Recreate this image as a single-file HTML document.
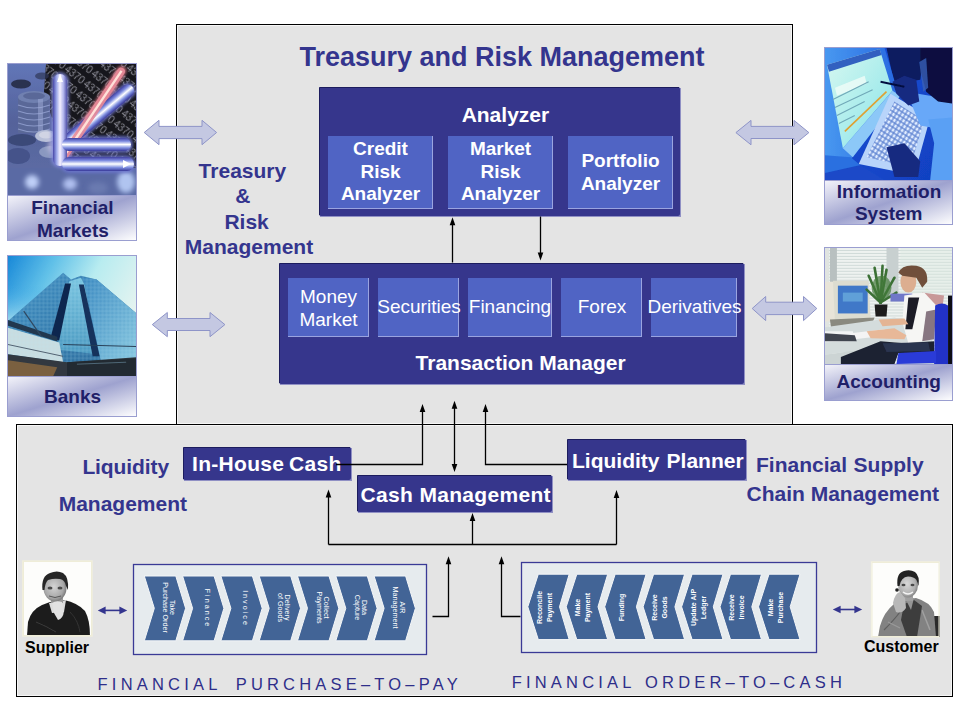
<!DOCTYPE html>
<html><head><meta charset="utf-8">
<style>
html,body{margin:0;padding:0;background:#fff;width:960px;height:720px;overflow:hidden}
svg{display:block;font-family:"Liberation Sans",sans-serif}
.nv{fill:#34358e;font-weight:bold}
.wt{fill:#fff;font-weight:bold}
.wn{fill:#fff}
.lb{fill:#1f2068;font-weight:bold}
</style></head><body>
<svg width="960" height="720" viewBox="0 0 960 720">
<defs>
<linearGradient id="lbl" x1="0" y1="0" x2="1" y2="1">
<stop offset="0" stop-color="#f4f4fa"/><stop offset="0.5" stop-color="#9ea2cf"/><stop offset="1" stop-color="#ffffff"/>
</linearGradient>
<marker id="ah" viewBox="0 0 10 10" refX="9" refY="5" markerWidth="5" markerHeight="7" orient="auto" markerUnits="userSpaceOnUse">
<path d="M0,0 L10,5 L0,10 z" fill="#000"/>
</marker>
</defs>

<!-- top gray box -->
<rect x="176.5" y="24.5" width="616" height="400" fill="#e4e4e4" stroke="#000" stroke-width="1"/>
<rect x="177.5" y="25.5" width="614" height="398" fill="none" stroke="#f6f6f6" stroke-width="1"/>
<!-- lower gray box -->
<rect x="16.5" y="424.5" width="936" height="272" fill="#e4e4e4" stroke="#000" stroke-width="1"/>
<rect x="17.5" y="425.5" width="934" height="270" fill="none" stroke="#f6f6f6" stroke-width="1"/>

<!-- title -->
<text class="nv" x="502" y="65.6" font-size="27" text-anchor="middle">Treasury and Risk Management</text>
<text class="nv" x="242.4" y="178" font-size="21" text-anchor="middle">Treasury</text>
<text class="nv" x="242.8" y="202.7" font-size="21" text-anchor="middle">&amp;</text>
<text class="nv" x="246.6" y="228.6" font-size="21" text-anchor="middle">Risk</text>
<text class="nv" x="249" y="254.2" font-size="21" text-anchor="middle">Management</text>

<!-- Analyzer -->
<rect x="320" y="88" width="361" height="129" fill="#9090c4"/>
<rect x="319" y="87" width="361" height="129" rx="2" fill="#36368c"/>
<path d="M319.5,215.0 V87.5 H679.0" stroke="#1c1c5e" stroke-width="1" fill="none"/>
<text class="wt" x="505.4" y="121.6" font-size="21" text-anchor="middle">Analyzer</text>
<g>
<rect x="328" y="136" width="105" height="73" fill="#9aa4e0"/>
<rect x="328" y="136" width="104" height="72" fill="#5064c4"/>
<rect x="448" y="136" width="105" height="73" fill="#9aa4e0"/>
<rect x="448" y="136" width="104" height="72" fill="#5064c4"/>
<rect x="568" y="136" width="105" height="73" fill="#9aa4e0"/>
<rect x="568" y="136" width="104" height="72" fill="#5064c4"/>
</g>
<text class="wt" font-size="19" text-anchor="middle"><tspan x="380.5" y="155.4">Credit</tspan><tspan x="380.5" y="178">Risk</tspan><tspan x="380.5" y="200.4">Analyzer</tspan></text>
<text class="wt" font-size="19" text-anchor="middle"><tspan x="500.5" y="155.4">Market</tspan><tspan x="500.5" y="178">Risk</tspan><tspan x="500.5" y="200.4">Analyzer</tspan></text>
<text class="wt" font-size="19" text-anchor="middle"><tspan x="620.5" y="167">Portfolio</tspan><tspan x="620.5" y="190">Analyzer</tspan></text>

<!-- Transaction manager -->
<rect x="280" y="264" width="465" height="121" fill="#9090c4"/>
<rect x="279" y="263" width="465" height="121" rx="2" fill="#36368c"/>
<path d="M279.5,383.0 V263.5 H743.0" stroke="#1c1c5e" stroke-width="1" fill="none"/>
<g>
<rect x="288" y="278" width="81" height="59" fill="#9aa4e0"/><rect x="288" y="278" width="80" height="58" fill="#5064c4"/>
<rect x="378" y="278" width="81" height="59" fill="#9aa4e0"/><rect x="378" y="278" width="80" height="58" fill="#5064c4"/>
<rect x="468" y="278" width="84" height="59" fill="#9aa4e0"/><rect x="468" y="278" width="83" height="58" fill="#5064c4"/>
<rect x="561" y="278" width="81" height="59" fill="#9aa4e0"/><rect x="561" y="278" width="80" height="58" fill="#5064c4"/>
<rect x="651" y="278" width="86" height="59" fill="#9aa4e0"/><rect x="651" y="278" width="85" height="58" fill="#5064c4"/>
</g>
<text class="wn" font-size="19" text-anchor="middle"><tspan x="328.5" y="302.9">Money</tspan><tspan x="328.5" y="325.6">Market</tspan></text>
<text class="wn" font-size="19" text-anchor="middle" x="419" y="313.4">Securities</text>
<text class="wn" font-size="19" text-anchor="middle" x="510" y="313.4">Financing</text>
<text class="wn" font-size="19" text-anchor="middle" x="602" y="313.4">Forex</text>
<text class="wn" font-size="19" text-anchor="middle" x="694.5" y="313.4">Derivatives</text>
<text class="wt" x="520.6" y="370" font-size="21" text-anchor="middle">Transaction Manager</text>

<!-- arrows between analyzer and TM -->
<g stroke="#000" stroke-width="1.3" fill="none">
<line x1="452.5" y1="262.5" x2="452.5" y2="222"/>
<line x1="540.5" y1="216.5" x2="540.5" y2="255"/>
</g>
<g fill="#000">
<polygon points="452.5,217.3 449.7,225.3 455.3,225.3"/>
<polygon points="540.5,260.5 537.7,252.5 543.3,252.5"/>
</g>

<!-- lower boxes -->
<rect x="184" y="448" width="168" height="33" fill="#9090c4"/>
<rect x="183" y="447" width="168" height="33" rx="2" fill="#36368c"/>
<path d="M183.5,479.0 V447.5 H350.0" stroke="#1c1c5e" stroke-width="1" fill="none"/>
<text class="wt" y="471" font-size="21" letter-spacing="0.3"><tspan x="192">In-House</tspan><tspan x="289">Cash</tspan></text>
<rect x="358" y="476" width="195" height="37" fill="#9090c4"/>
<rect x="357" y="475" width="195" height="37" rx="2" fill="#36368c"/>
<path d="M357.5,511.0 V475.5 H551.0" stroke="#1c1c5e" stroke-width="1" fill="none"/>
<text class="wt" x="360.6" y="501.6" font-size="21" letter-spacing="0.32">Cash Management</text>
<rect x="568" y="440" width="179" height="41" fill="#9090c4"/>
<rect x="567" y="439" width="179" height="41" rx="2" fill="#36368c"/>
<path d="M567.5,479.0 V439.5 H745.0" stroke="#1c1c5e" stroke-width="1" fill="none"/>
<text class="wt" y="467.9" font-size="21"><tspan x="572">Liquidity</tspan><tspan x="666.6">Planner</tspan></text>

<text class="nv" x="82.4" y="474.2" font-size="21" letter-spacing="-0.1">Liquidity</text>
<text class="nv" x="58.7" y="511" font-size="21">Management</text>
<text class="nv" y="471.9" font-size="21"><tspan x="756">Financial</tspan><tspan x="853.6">Supply</tspan></text>
<text class="nv" x="746.5" y="501.4" font-size="21">Chain Management</text>

<g stroke="#000" stroke-width="1.3" fill="none">
<polyline points="336,464.5 422.5,464.5 422.5,410"/>
<line x1="454.5" y1="407" x2="454.5" y2="466"/>
<polyline points="567,464.5 485.5,464.5 485.5,410"/>
<polyline points="328.5,544.5 616.5,544.5"/>
<line x1="328.5" y1="544.5" x2="328.5" y2="495"/>
<line x1="472.5" y1="544.5" x2="472.5" y2="519"/>
<line x1="616.5" y1="544.5" x2="616.5" y2="495"/>
<polyline points="432.5,616.5 448.5,616.5 448.5,562"/>
<polyline points="520.5,616.5 501.5,616.5 501.5,562"/>
</g>
<g fill="#000">
<polygon points="422.5,403.9 419.7,411.9 425.3,411.9"/>
<polygon points="454.5,400.8 451.7,408.8 457.3,408.8"/>
<polygon points="454.5,472.0 451.7,464.0 457.3,464.0"/>
<polygon points="485.5,403.9 482.7,411.9 488.3,411.9"/>
<polygon points="328.5,489.6 325.7,497.6 331.3,497.6"/>
<polygon points="472.5,513.0 469.7,521.0 475.3,521.0"/>
<polygon points="616.5,490.0 613.7,498.0 619.3,498.0"/>
<polygon points="448.5,556.2 445.7,564.2 451.3,564.2"/>
<polygon points="501.5,556.2 498.7,564.2 504.3,564.2"/>
</g>

<!-- panels -->
<rect x="133.5" y="564.5" width="293" height="90" fill="#e6ebee" stroke="#3a3a96" stroke-width="1.3"/>
<rect x="521.5" y="562.5" width="295" height="90" fill="#e6ebee" stroke="#3a3a96" stroke-width="1.3"/>
<g fill="#426496" stroke="#f4f6f8" stroke-width="1">
<polygon points="144.3,576.0 175.8,576.0 185.6,608.3 175.8,640.8 144.3,640.8 154.3,608.3"/>
<polygon points="182.6,576.0 214.1,576.0 223.9,608.3 214.1,640.8 182.6,640.8 192.6,608.3"/>
<polygon points="220.9,576.0 252.4,576.0 262.2,608.3 252.4,640.8 220.9,640.8 230.9,608.3"/>
<polygon points="259.2,576.0 290.7,576.0 300.5,608.3 290.7,640.8 259.2,640.8 269.2,608.3"/>
<polygon points="297.5,576.0 329.0,576.0 338.8,608.3 329.0,640.8 297.5,640.8 307.5,608.3"/>
<polygon points="335.8,576.0 367.3,576.0 377.1,608.3 367.3,640.8 335.8,640.8 345.8,608.3"/>
<polygon points="374.1,576.0 405.6,576.0 415.4,608.3 405.6,640.8 374.1,640.8 384.1,608.3"/>
<polygon points="527.8,606.8 538.3,574.2 569.2,574.2 559.5,606.8 569.2,639.6 538.3,639.6"/>
<polygon points="566.2,606.8 576.8,574.2 607.7,574.2 598.0,606.8 607.7,639.6 576.8,639.6"/>
<polygon points="604.7,606.8 615.2,574.2 646.1,574.2 636.4,606.8 646.1,639.6 615.2,639.6"/>
<polygon points="643.1,606.8 653.6,574.2 684.6,574.2 674.9,606.8 684.6,639.6 653.6,639.6"/>
<polygon points="681.6,606.8 692.1,574.2 723.0,574.2 713.3,606.8 723.0,639.6 692.1,639.6"/>
<polygon points="720.0,606.8 730.5,574.2 761.5,574.2 751.8,606.8 761.5,639.6 730.5,639.6"/>
<polygon points="758.5,606.8 769.0,574.2 800.0,574.2 790.2,606.8 800.0,639.6 769.0,639.6"/>
</g>
<g fill="#fff" font-size="7.2">
<text transform="translate(169.3,607.5) rotate(90)" text-anchor="middle"><tspan x="0" y="-1">Take</tspan><tspan x="0" y="6">Purchase Order</tspan></text>
<text transform="translate(207.6,607.5) rotate(90)" text-anchor="middle" y="2.5">F i n a n c e</text>
<text transform="translate(245.9,607.5) rotate(90)" text-anchor="middle" y="2.5">I n v o i c e</text>
<text transform="translate(284.2,607.5) rotate(90)" text-anchor="middle"><tspan x="0" y="-1">Delivery</tspan><tspan x="0" y="6">of Goods</tspan></text>
<text transform="translate(322.5,607.5) rotate(90)" text-anchor="middle"><tspan x="0" y="-1">Collect</tspan><tspan x="0" y="6">Payments</tspan></text>
<text transform="translate(360.8,607.5) rotate(90)" text-anchor="middle"><tspan x="0" y="-1">Data</tspan><tspan x="0" y="6">Capture</tspan></text>
<text transform="translate(399.1,607.5) rotate(90)" text-anchor="middle"><tspan x="0" y="-1">A/R</tspan><tspan x="0" y="6">Management</tspan></text>
</g>
<g fill="#fff" font-size="7" font-weight="bold">
<text transform="translate(544.3,607.5) rotate(-90)" text-anchor="middle"><tspan x="0" y="-2.5">Reconcile</tspan><tspan x="0" y="7.5">Payment</tspan></text>
<text transform="translate(582.8,607.5) rotate(-90)" text-anchor="middle"><tspan x="0" y="-2.5">Make</tspan><tspan x="0" y="7.5">Payment</tspan></text>
<text transform="translate(621.2,607.5) rotate(-90)" text-anchor="middle" y="2.5">Funding</text>
<text transform="translate(659.6,607.5) rotate(-90)" text-anchor="middle"><tspan x="0" y="-2.5">Receive</tspan><tspan x="0" y="7.5">Goods</tspan></text>
<text transform="translate(698.1,607.5) rotate(-90)" text-anchor="middle"><tspan x="0" y="-2.5">Update A/P</tspan><tspan x="0" y="7.5">Ledger</tspan></text>
<text transform="translate(736.5,607.5) rotate(-90)" text-anchor="middle"><tspan x="0" y="-2.5">Receive</tspan><tspan x="0" y="7.5">Invoice</tspan></text>
<text transform="translate(775.0,607.5) rotate(-90)" text-anchor="middle"><tspan x="0" y="-2.5">Make</tspan><tspan x="0" y="7.5">Purchase</tspan></text>
</g>

<text y="689.8" font-size="16.5" fill="#2e2e8a" letter-spacing="4.2"><tspan x="97.6">FINANCIAL</tspan><tspan x="235.7">PURCHASE–TO–PAY</tspan></text>
<text y="687.5" font-size="16.5" fill="#2e2e8a" letter-spacing="4.2"><tspan x="511.7">FINANCIAL</tspan><tspan x="645">ORDER–TO–CASH</tspan></text>

<text x="25" y="653.4" font-size="16" font-weight="bold" fill="#000">Supplier</text>
<text x="864" y="652" font-size="16" font-weight="bold" fill="#000">Customer</text>

<!-- tiles -->
<rect x="7.5" y="63.5" width="129" height="132" fill="#4a5a8a" stroke="#9a9ed0"/>
<svg x="8" y="64" width="128" height="131" viewBox="0 0 128 131" overflow="hidden">
<defs>
<filter id="b1" x="-10%" y="-10%" width="120%" height="120%"><feGaussianBlur stdDeviation="0.7"/></filter>
<filter id="b2" x="-30%" y="-30%" width="160%" height="160%"><feGaussianBlur stdDeviation="2.5"/></filter>
<filter id="b3" x="-30%" y="-30%" width="160%" height="160%"><feGaussianBlur stdDeviation="1.6"/></filter>
<linearGradient id="p1bg" x1="0" y1="0" x2="0" y2="1"><stop offset="0" stop-color="#6276b8"/><stop offset="0.45" stop-color="#54629a"/><stop offset="1" stop-color="#6070a8"/></linearGradient>
<linearGradient id="barV" x1="0" y1="0" x2="1" y2="0"><stop offset="0" stop-color="#4848a8"/><stop offset="0.25" stop-color="#9aa6e8"/><stop offset="0.5" stop-color="#f4f0ff"/><stop offset="0.75" stop-color="#b0b4ec"/><stop offset="1" stop-color="#5050a8"/></linearGradient>
<linearGradient id="barH" x1="0" y1="0" x2="0" y2="1"><stop offset="0" stop-color="#4040a0"/><stop offset="0.25" stop-color="#7e8ce0"/><stop offset="0.5" stop-color="#ffffff"/><stop offset="0.75" stop-color="#8090e0"/><stop offset="1" stop-color="#38389a"/></linearGradient>
<pattern id="nums" width="24" height="13" patternUnits="userSpaceOnUse" patternTransform="rotate(38)">
<text x="0" y="10" font-size="10" fill="#8a8a96" font-family="Liberation Sans">4370</text>
</pattern>
</defs>
<g filter="url(#b1)">
<rect width="128" height="131" fill="url(#p1bg)"/>
<!-- black numbers area -->
<path d="M38,0 L128,0 L128,112 L110,108 L60,92 L45,58 L36,28 Z" fill="#18181c"/>
<path d="M38,0 L128,0 L128,112 L110,108 L60,92 L45,58 L36,28 Z" fill="url(#nums)"/>
<!-- dark blob -->
<ellipse cx="13" cy="20" rx="10" ry="4.5" fill="#2a3050"/>
<ellipse cx="34" cy="12" rx="7" ry="3.5" fill="#303858" opacity="0.7"/>
<!-- coin stack -->
<rect x="10" y="33" width="32" height="36" fill="#5a6898"/>
<ellipse cx="26" cy="33" rx="16" ry="6" fill="#7080b0"/>
<ellipse cx="26" cy="32" rx="11" ry="3.5" fill="#5a6898"/>
<g stroke="#8a98c8" stroke-width="1.1" fill="none">
<path d="M10,41 Q26,47 42,41"/><path d="M10,47 Q26,53 42,47"/><path d="M10,53 Q26,59 42,53"/><path d="M10,59 Q26,65 42,59"/><path d="M10,65 Q26,71 42,65"/>
</g>
<rect x="30" y="35" width="5" height="32" fill="#a0acd8" opacity="0.5"/>
<ellipse cx="14" cy="76" rx="14" ry="6" fill="#3a4878"/>
<ellipse cx="38" cy="72" rx="11" ry="6" fill="#b8c0d8"/>
<ellipse cx="38" cy="71" rx="7" ry="3.5" fill="#d0d4e4"/>
<ellipse cx="42" cy="88" rx="11" ry="6" fill="#8a98c0"/>
<ellipse cx="10" cy="92" rx="12" ry="8" fill="#44528a"/>
<!-- bottom -->
<rect x="0" y="104" width="128" height="27" fill="#5a6aa4"/>
</g>
<g filter="url(#b2)">
<ellipse cx="24" cy="118" rx="7" ry="7" fill="#c0d0f8"/>
<ellipse cx="62" cy="120" rx="7" ry="6" fill="#b0c0f0"/>
<ellipse cx="118" cy="118" rx="9" ry="11" fill="#b0c4f0"/>
<ellipse cx="90" cy="124" rx="10" ry="6" fill="#6a7ab0"/>
<ellipse cx="52" cy="82" rx="12" ry="10" fill="#d8d0e8" opacity="0.7"/>
</g>
<g filter="url(#b3)">
<g transform="translate(54,82) rotate(-40)"><rect x="0" y="-8" width="94" height="16" rx="8" fill="#7078d0" opacity="0.8"/></g>
<g transform="translate(52,98) rotate(-56)"><rect x="0" y="-5" width="115" height="10" rx="5" fill="#e07a8a" opacity="0.8"/></g>
<rect x="43" y="8" width="18" height="96" rx="9" fill="#8088d8" opacity="0.8"/>
<rect x="52" y="72" width="73" height="17" rx="8" fill="#6a74d0" opacity="0.8"/>
<rect x="52" y="91" width="76" height="18" rx="9" fill="#6a74d0" opacity="0.8"/>
</g>
<g filter="url(#b1)">
<g transform="translate(54,82) rotate(-40)">
<rect x="0" y="-6.5" width="92" height="13" rx="6.5" fill="url(#barH)"/>
</g>
<g transform="translate(52,98) rotate(-56)">
<rect x="0" y="-4" width="113" height="8" rx="4" fill="#e88a98" opacity="0.9"/>
<rect x="0" y="-1.2" width="110" height="2.4" fill="#ffe0d8"/>
</g>
<rect x="45" y="10" width="14" height="92" rx="7" fill="url(#barV)"/>
<path d="M52,10 L55,18 L49,18 Z" fill="#fff"/>
<rect x="54" y="74" width="69" height="13" rx="6.5" fill="url(#barH)"/>
<rect x="54" y="93" width="72" height="14" rx="7" fill="url(#barH)"/>
<path d="M123,100 L115,96 L115,104 Z" fill="#fff"/>
</g>
</svg>

<rect x="7.5" y="195.5" width="129" height="45" fill="url(#lbl)" stroke="#9a9ed0"/>
<text class="lb" font-size="19" text-anchor="middle"><tspan x="72.4" y="213.6">Financial</tspan><tspan x="72.9" y="236.6">Markets</tspan></text>

<rect x="7.5" y="255.5" width="129" height="121" fill="#60a8d0" stroke="#9a9ed0"/>
<svg x="8" y="256" width="128" height="120" viewBox="0 0 130 122" preserveAspectRatio="none" overflow="hidden">
<defs>
<filter id="c1" x="-10%" y="-10%" width="120%" height="120%"><feGaussianBlur stdDeviation="0.7"/></filter>
<linearGradient id="sky" x1="0" y1="0" x2="1" y2="0.5"><stop offset="0" stop-color="#1888d8"/><stop offset="0.3" stop-color="#60c0e8"/><stop offset="0.6" stop-color="#b8ecf0"/><stop offset="1" stop-color="#e8f4f0"/></linearGradient>
<linearGradient id="skyL" x1="0" y1="0" x2="0" y2="1"><stop offset="0" stop-color="#40a8e8" stop-opacity="0"/><stop offset="1" stop-color="#c8eef0"/></linearGradient>
<linearGradient id="twL" x1="0" y1="0" x2="1" y2="1"><stop offset="0" stop-color="#4090c4"/><stop offset="1" stop-color="#2a6898"/></linearGradient>
<linearGradient id="twM" x1="0" y1="0" x2="0" y2="1"><stop offset="0" stop-color="#78c4e0"/><stop offset="1" stop-color="#4a98c0"/></linearGradient>
<linearGradient id="twR" x1="0" y1="0" x2="1" y2="1"><stop offset="0" stop-color="#3a88c0"/><stop offset="1" stop-color="#88c8e0"/></linearGradient>
<pattern id="grid" width="4" height="4" patternUnits="userSpaceOnUse"><rect width="4" height="4" fill="none" stroke="#b8e8f4" stroke-width="0.5" opacity="0.4"/></pattern>
</defs>
<g filter="url(#c1)">
<rect width="130" height="122" fill="url(#sky)"/>
<rect x="0" y="30" width="60" height="45" fill="url(#skyL)"/>
<!-- tower -->
<path d="M56,17 L64,24 L74,20 L90,24 L130,58 L130,110 L60,114 L0,100 L0,66 Z" fill="url(#twL)"/>
<path d="M62,26 L74,22 L78,30 L90,100 L50,95 Z" fill="url(#twM)"/>
<path d="M76,22 L90,24 L130,58 L130,108 L95,110 L78,30 Z" fill="url(#twR)"/>
<path d="M56,17 L64,24 L74,20 L90,24 L130,58 L130,110 L60,114 L0,100 L0,66 Z" fill="url(#grid)"/>
<!-- dark stripes -->
<path d="M58,28 L64,28 L52,86 L43,84 Z" fill="#102850"/>
<path d="M72,29 L77,29 L93,102 L86,102 Z" fill="#14305c"/>
<!-- lower-left structure -->
<path d="M0,65 L50,82 L50,87 L0,71 Z" fill="#203850"/>
<path d="M0,73 L52,88 L56,108 L0,100 Z" fill="#c8dce0"/>
<path d="M0,73 L52,88 L56,108 L0,100 Z" fill="url(#grid)"/>
<path d="M16,56 L34,82" stroke="#304860" stroke-width="1.2"/>
<path d="M0,90 L56,102" stroke="#506070" stroke-width="1"/>
<path d="M56,90 L130,92" stroke="#284058" stroke-width="1.2"/>
<!-- bottom -->
<path d="M0,100 L60,108 L130,103 L130,122 L0,122 Z" fill="#303840"/>
<path d="M0,106 L50,113 L46,122 L0,122 Z" fill="#7a6040"/>
<path d="M60,108 L130,104 L130,122 L60,122 Z" fill="#222a30"/>
<path d="M70,110 L120,108" stroke="#506878" stroke-width="1"/>
</g>
</svg>

<rect x="7.5" y="376.5" width="129" height="40" fill="url(#lbl)" stroke="#9a9ed0"/>
<text class="lb" font-size="19" text-anchor="middle" x="72.5" y="402.5">Banks</text>

<rect x="824.5" y="47.5" width="128" height="133" fill="#2050d0" stroke="#9a9ed0"/>
<svg x="825" y="48" width="127" height="132" viewBox="0 0 128 133" preserveAspectRatio="none" overflow="hidden">
<defs>
<filter id="d1" x="-10%" y="-10%" width="120%" height="120%"><feGaussianBlur stdDeviation="0.8"/></filter>
<linearGradient id="isbg" x1="0" y1="0" x2="1" y2="1"><stop offset="0" stop-color="#1a50d8"/><stop offset="1" stop-color="#1040c0"/></linearGradient>
<linearGradient id="scr" x1="0" y1="0" x2="1" y2="1"><stop offset="0" stop-color="#d8f8f0"/><stop offset="0.6" stop-color="#a8ecec"/><stop offset="1" stop-color="#80d8e8"/></linearGradient>
<linearGradient id="bez" x1="0" y1="0" x2="1" y2="0"><stop offset="0" stop-color="#4898f0"/><stop offset="1" stop-color="#2868e0"/></linearGradient>
<pattern id="keys" width="4.5" height="4" patternUnits="userSpaceOnUse" patternTransform="rotate(-58)"><rect width="4.5" height="4" fill="#5a80d0"/><rect x="0.6" y="0.6" width="3.3" height="2.8" fill="#e0ecff"/></pattern>
</defs>
<g filter="url(#d1)">
<rect width="128" height="133" fill="url(#isbg)"/>
<!-- dark back top right -->
<path d="M62,0 L100,0 L96,32 L70,36 Z" fill="#0a1c60"/>
<!-- monitor bezel -->
<path d="M0,0 L60,0 L74,46 L26,112 L0,126 Z" fill="url(#bez)"/>
<path d="M0,108 L26,110 L40,122 L0,133 Z" fill="#2a70e0"/>
<!-- screen -->
<path d="M2,17 L55,1 L68,43 L18,101 Z" fill="url(#scr)"/>
<path d="M2,17 L55,1 L57,7 L4,24 Z" fill="#3060c0"/>
<path d="M10,40 L40,28 L42,36 L12,48 Z" fill="#f0fcf8" opacity="0.8"/>
<path d="M20,84 L62,44" stroke="#e0a030" stroke-width="1.6"/>
<path d="M8,52 L44,34 M10,60 L48,42 M12,68 L40,54 M14,76 L30,68" stroke="#70a8b8" stroke-width="1.1"/>
<path d="M18,101 L68,43 L76,48 L28,110 Z" fill="#8cc8f8"/>
<!-- keyboard -->
<path d="M66,46 L106,70 L90,128 L34,117 Z" fill="#b8d4fa"/>
<path d="M70,54 L100,73 L86,120 L42,110 Z" fill="url(#keys)"/>
<!-- right arm sleeve -->
<path d="M82,44 L128,52 L128,84 L96,78 Z" fill="#68a8f8"/>
<path d="M104,72 L128,70 L128,133 L106,133 L110,96 Z" fill="#5aa0f4"/>
<!-- head silhouette -->
<path d="M96,0 L128,0 L128,56 L114,54 L102,44 L96,22 Z" fill="#081040"/>
<path d="M95,14 L102,10 L104,40 L99,44 Z" fill="#3a60b8" opacity="0.8"/>
<!-- hand with pen -->
<path d="M68,34 L80,28 L92,32 L95,54 L84,58 L72,46 Z" fill="#182a80"/>
<path d="M56,34 L80,39" stroke="#061040" stroke-width="2"/>
<!-- bottom hand -->
<path d="M62,100 L80,96 L96,114 L94,130 L70,130 Z" fill="#182a80"/>
<path d="M0,126 L36,118 L60,133 L0,133 Z" fill="#1a4ac8"/>
</g>
</svg>

<rect x="824.5" y="180.5" width="128" height="44" fill="url(#lbl)" stroke="#9a9ed0"/>
<text class="lb" font-size="19" text-anchor="middle"><tspan x="889" y="197.8">Information</tspan><tspan x="888.7" y="220.2">System</tspan></text>

<rect x="824.5" y="247.5" width="128" height="117" fill="#a0b0b0" stroke="#9a9ed0"/>
<svg x="825" y="248" width="127" height="116" viewBox="0 0 128 117" preserveAspectRatio="none" overflow="hidden">
<defs>
<filter id="e1" x="-10%" y="-10%" width="120%" height="120%"><feGaussianBlur stdDeviation="0.8"/></filter>
<pattern id="blinds" width="6" height="3" patternUnits="userSpaceOnUse"><rect width="6" height="3" fill="#eef2f0"/><rect y="2" width="6" height="1" fill="#d0dad8"/></pattern>
</defs>
<g filter="url(#e1)">
<rect width="128" height="117" fill="url(#blinds)"/>
<rect x="5" y="0" width="7" height="40" fill="#b8c0c0"/>
<rect x="62" y="0" width="12" height="50" fill="#c8d0d0"/>
<rect x="0" y="0" width="4" height="117" fill="#e0e4e0"/>
<rect x="76" y="0" width="52" height="45" fill="#dcece0" opacity="0.4"/>
<!-- monitor -->
<rect x="0" y="34" width="12" height="40" fill="#e8e4d8"/>
<path d="M8,33 L44,33 L46,72 L10,74 Z" fill="#dcdcd0"/>
<rect x="13" y="38" width="30" height="28" fill="#4078c8"/>
<rect x="18" y="45" width="20" height="9" fill="#60a0d8"/>
<path d="M5,72 L50,70 L46,80 L6,80 Z" fill="#8a8a80"/>
<!-- desk -->
<path d="M0,80 L70,70 L108,80 L108,96 L50,100 L0,108 Z" fill="#d4dcdc"/>
<path d="M0,84 L28,84 L30,94 L0,95 Z" fill="#f2f4f4"/>
<path d="M26,86 L60,82 L64,88 L30,92 Z" fill="#f4f4f4"/>
<path d="M0,108 L50,100 L70,117 L0,117 Z" fill="#ccd4d4"/>

<!-- plant -->
<g stroke="#3a7034" stroke-width="2.6" stroke-linecap="round" fill="none">
<path d="M56,55 L44,28"/><path d="M56,55 L50,20"/><path d="M56,55 L62,22"/><path d="M56,55 L70,30"/><path d="M56,55 L42,42"/><path d="M56,55 L72,45"/><path d="M56,55 L58,18"/>
</g>
<ellipse cx="57" cy="40" rx="10" ry="12" fill="#447a3c" opacity="0.7"/>
<path d="M50,57 L63,57 L62,69 L51,69 Z" fill="#1c1c1c"/>
<!-- blue folders -->
<rect x="66" y="46" width="22" height="8" fill="#7078c8"/>
<!-- man -->
<path d="M98,45 L120,48 L118,62 L100,58 Z" fill="#c89898"/>
<path d="M80,48 L100,45 L114,60 L112,92 L84,96 L78,75 Z" fill="#f6f6f4"/>
<path d="M84,50 L95,50 L88,82 L81,82 Z" fill="#1c1c28"/>
<path d="M102,64 L112,62 L110,92 L98,94 Z" fill="#584050" opacity="0.7"/>
<ellipse cx="84" cy="34" rx="8" ry="11" fill="#dcae90"/>
<path d="M74,25 Q78,16 92,18 Q104,20 103,34 L98,40 L92,30 L78,28 Z" fill="#70503a"/>
<!-- arms/hands -->
<path d="M42,84 L70,81 L82,88 L80,92 L46,91 Z" fill="#e8b898"/>
<path d="M54,72 L80,71 L84,77 L58,79 Z" fill="#e4b494"/>
<!-- pants / under desk -->
<path d="M16,110 L56,94 L80,96 L110,94 L110,106 L74,106 L70,117 L16,117 Z" fill="#1c2230"/>
<path d="M58,96 L104,95 L106,104 L62,105 Z" fill="#2a3450"/>
<path d="M0,86 L30,88 L32,94 L0,94 Z" fill="#404450"/>
<!-- chair -->
<path d="M111,58 Q118,54 124,58 L124,117 L110,117 Z" fill="#2232c8"/>
<path d="M74,106 L112,104 L112,116 L72,117 Z" fill="#2a3ad8"/>
<rect x="124" y="48" width="4" height="69" fill="#101018"/>
</g>
</svg>

<rect x="824.5" y="364.5" width="128" height="36" fill="url(#lbl)" stroke="#9a9ed0"/>
<text class="lb" font-size="19" text-anchor="middle" x="888.7" y="387.8">Accounting</text>

<!-- block arrows -->
<g fill="#c4c8e2" stroke="#8e94c8" stroke-width="1">
<polygon points="144.2,132.5 159,120.3 159,126.4 202,126.4 202,120.3 216.6,132.5 202,144.7 202,138.6 159,138.6 159,144.7"/>
<polygon points="152.3,324.6 167.3,312.5 167.3,318.5 210,318.5 210,312.5 224.9,324.6 210,336.7 210,330.5 167.3,330.5 167.3,336.7"/>
<polygon points="735.9,132.6 751,120.4 751,126.4 794,126.4 794,120.4 808.9,132.6 794,144.8 794,138.5 751,138.5 751,144.8"/>
<polygon points="752.2,308.5 765.7,296.5 765.7,302.2 803.5,302.2 803.5,296.5 816.8,308.5 803.5,320.6 803.5,314.6 765.7,314.6 765.7,320.6"/>
</g>

<!-- small dark arrows -->
<g fill="#34358e" stroke="#34358e">
<line x1="104" y1="610.4" x2="121" y2="610.4" stroke-width="1.6"/>
<polygon points="97.8,610.4 105.6,606.6 105.6,614.2" stroke="none"/>
<polygon points="127.2,610.4 119.4,606.6 119.4,614.2" stroke="none"/>
<line x1="839" y1="609.5" x2="856" y2="609.5" stroke-width="1.6"/>
<polygon points="832.8,609.5 840.6,605.7 840.6,613.3" stroke="none"/>
<polygon points="862.2,609.5 854.4,605.7 854.4,613.3" stroke="none"/>
</g>

<!-- person photos placeholders -->
<rect x="22.5" y="560.8" width="69.7" height="75.4" fill="#f8f8f4" stroke="#f0eedc"/>
<svg x="23" y="561" width="69" height="75" viewBox="23 561 69 75" overflow="hidden">
<defs><filter id="f5" x="-10%" y="-10%" width="120%" height="120%"><feGaussianBlur stdDeviation="0.6"/></filter>
<radialGradient id="face5" cx="0.45" cy="0.45" r="0.6"><stop offset="0" stop-color="#d4d4d4"/><stop offset="0.7" stop-color="#a8a8a8"/><stop offset="1" stop-color="#707070"/></radialGradient></defs>
<rect x="23" y="561" width="69" height="75" fill="#fdfdfb"/>
<g filter="url(#f5)">
<!-- sweater -->
<path d="M27,636 L28,622 Q31,610 42,605 L50,602 L64,600 Q78,603 85,611 Q90,620 90,636 Z" fill="#1c1c1c"/>
<path d="M36,622 Q46,626 56,632" stroke="#3a3a3a" stroke-width="1" fill="none"/>
<path d="M70,612 Q78,620 80,632" stroke="#333" stroke-width="1" fill="none"/>
<!-- collar -->
<path d="M49,603 L66,600 L64,612 L52,613 Z" fill="#dcdcdc"/>
<!-- neck -->
<rect x="51" y="595" width="12" height="8" fill="#9a9a9a"/>
<!-- head -->
<ellipse cx="55" cy="588" rx="11.5" ry="13.5" fill="url(#face5)"/>
<path d="M42.5,590 Q41,576 50,573 Q57,570 63,573 Q69,577 68,590 L66,586 Q65,580 60,579 Q54,578 48,580 Q45,583 44.5,590 Z" fill="#262626"/>
<ellipse cx="50" cy="588" rx="2.5" ry="1.5" fill="#4a4a4a"/>
<ellipse cx="60" cy="588" rx="2.5" ry="1.5" fill="#4a4a4a"/>
<path d="M49,596 Q55,599 61,596" stroke="#585858" stroke-width="1" fill="none"/>
<!-- hand -->
<path d="M52,603 Q56,600 62,602 L64,611 Q63,619 58,620 L54,613 Z" fill="#e2e2e2"/>
</g>
<rect x="23.5" y="561.5" width="68" height="74" fill="none" stroke="#efedd8" stroke-width="1"/>
</svg>

<rect x="871.3" y="561.7" width="67.9" height="75.3" fill="#f8f8f4" stroke="#f0eedc"/>
<svg x="871.5" y="562" width="68" height="75" viewBox="871.5 562 68 75" overflow="hidden">
<defs><filter id="f6" x="-10%" y="-10%" width="120%" height="120%"><feGaussianBlur stdDeviation="0.6"/></filter>
<radialGradient id="face6" cx="0.45" cy="0.45" r="0.6"><stop offset="0" stop-color="#d8d8d8"/><stop offset="0.7" stop-color="#b0b0b0"/><stop offset="1" stop-color="#787878"/></radialGradient></defs>
<rect x="871.5" y="562" width="68" height="75" fill="#fdfdfb"/>
<g filter="url(#f6)">
<!-- chair -->
<rect x="934" y="616" width="6" height="21" fill="#2a2a2a"/>
<!-- body shirt -->
<path d="M878,637 L880,626 Q884,612 894,604 L902,600 L916,598 Q930,602 934,612 L936,637 Z" fill="#828282"/>
<path d="M884,630 Q894,620 900,612" stroke="#5e5e5e" stroke-width="1.2" fill="none"/>
<path d="M922,610 L930,630" stroke="#a0a0a0" stroke-width="1.5"/>
<path d="M888,622 L900,628" stroke="#9a9a9a" stroke-width="1.2"/>
<!-- vest -->
<path d="M904,604 L914,600 L922,606 L917,637 L907,637 L901,620 Z" fill="#3c3c3c"/>
<path d="M906,600 L914,598 L911,610 Z" fill="#959595"/>
<!-- neck -->
<rect x="902" y="592" width="11" height="9" fill="#a0a0a0"/>
<!-- head -->
<ellipse cx="908" cy="585" rx="10" ry="12.5" fill="url(#face6)"/>
<path d="M897.5,586 Q896,573 904,571 Q910,569 915,572 Q920,576 918.5,586 L916.5,580 Q914,576.5 908,576.5 Q901,577 899.5,586 Z" fill="#242424"/>
<ellipse cx="903.5" cy="585" rx="2" ry="1.2" fill="#4a4a4a"/>
<ellipse cx="912.5" cy="585" rx="2" ry="1.2" fill="#4a4a4a"/>
<path d="M903,592 Q908,596 913,592" stroke="#f4f4f4" stroke-width="1.4" fill="none"/>
<!-- hand raised -->
<path d="M893,603 Q895,593 900,592 L905,598 L906,608 Q902,614 896,612 Z" fill="#b8b8b8"/>
<circle cx="897" cy="590" r="1.8" fill="#202020"/>
</g>
<rect x="872" y="562.5" width="67" height="74" fill="none" stroke="#efedd8" stroke-width="1"/>
</svg>


</svg>
</body></html>
